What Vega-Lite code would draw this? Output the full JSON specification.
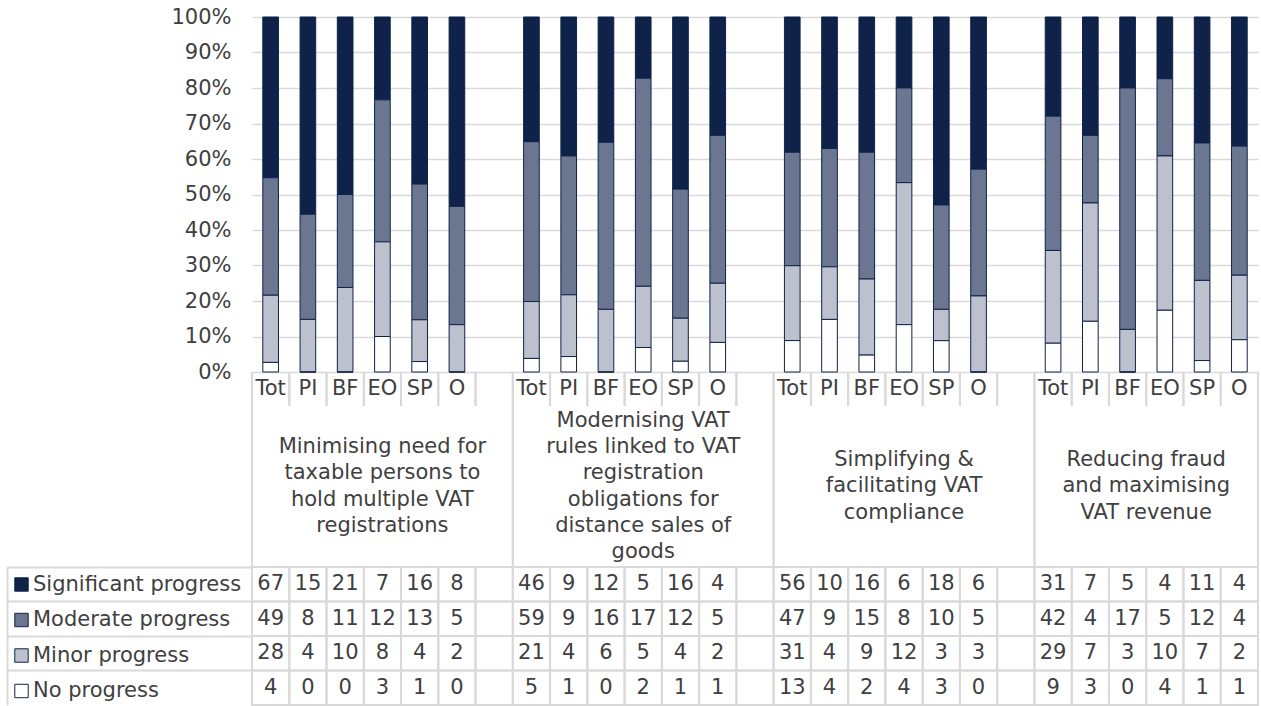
{
  "$schema": "https://vega.github.io/schema/vega-lite/v6.json",
  "padding": {"left": 6, "top": 6, "right": 0, "bottom": 0},
  "autosize": {"type": "pad"},
  "bounds": "flush",
  "spacing": 0,
  "config": {
    "font": "DejaVu Sans",
    "view": {"stroke": null},
    "text": {"fontSize": 21, "color": "#404040", "font": "DejaVu Sans"},
    "axis": {"labelFont": "DejaVu Sans"}
  },
  "datasets": {
    "cells": [
      {"group": 1, "cat": "Tot", "slot": "1|Tot", "series": "Significant progress", "count": 67},
      {"group": 1, "cat": "PI", "slot": "1|PI", "series": "Significant progress", "count": 15},
      {"group": 1, "cat": "BF", "slot": "1|BF", "series": "Significant progress", "count": 21},
      {"group": 1, "cat": "EO", "slot": "1|EO", "series": "Significant progress", "count": 7},
      {"group": 1, "cat": "SP", "slot": "1|SP", "series": "Significant progress", "count": 16},
      {"group": 1, "cat": "O", "slot": "1|O", "series": "Significant progress", "count": 8},
      {"group": 1, "cat": "", "slot": "1|-", "series": "Significant progress", "count": null},
      {"group": 1, "cat": "Tot", "slot": "1|Tot", "series": "Moderate progress", "count": 49},
      {"group": 1, "cat": "PI", "slot": "1|PI", "series": "Moderate progress", "count": 8},
      {"group": 1, "cat": "BF", "slot": "1|BF", "series": "Moderate progress", "count": 11},
      {"group": 1, "cat": "EO", "slot": "1|EO", "series": "Moderate progress", "count": 12},
      {"group": 1, "cat": "SP", "slot": "1|SP", "series": "Moderate progress", "count": 13},
      {"group": 1, "cat": "O", "slot": "1|O", "series": "Moderate progress", "count": 5},
      {"group": 1, "cat": "", "slot": "1|-", "series": "Moderate progress", "count": null},
      {"group": 1, "cat": "Tot", "slot": "1|Tot", "series": "Minor progress", "count": 28},
      {"group": 1, "cat": "PI", "slot": "1|PI", "series": "Minor progress", "count": 4},
      {"group": 1, "cat": "BF", "slot": "1|BF", "series": "Minor progress", "count": 10},
      {"group": 1, "cat": "EO", "slot": "1|EO", "series": "Minor progress", "count": 8},
      {"group": 1, "cat": "SP", "slot": "1|SP", "series": "Minor progress", "count": 4},
      {"group": 1, "cat": "O", "slot": "1|O", "series": "Minor progress", "count": 2},
      {"group": 1, "cat": "", "slot": "1|-", "series": "Minor progress", "count": null},
      {"group": 1, "cat": "Tot", "slot": "1|Tot", "series": "No progress", "count": 4},
      {"group": 1, "cat": "PI", "slot": "1|PI", "series": "No progress", "count": 0},
      {"group": 1, "cat": "BF", "slot": "1|BF", "series": "No progress", "count": 0},
      {"group": 1, "cat": "EO", "slot": "1|EO", "series": "No progress", "count": 3},
      {"group": 1, "cat": "SP", "slot": "1|SP", "series": "No progress", "count": 1},
      {"group": 1, "cat": "O", "slot": "1|O", "series": "No progress", "count": 0},
      {"group": 1, "cat": "", "slot": "1|-", "series": "No progress", "count": null},

      {"group": 2, "cat": "Tot", "slot": "2|Tot", "series": "Significant progress", "count": 46},
      {"group": 2, "cat": "PI", "slot": "2|PI", "series": "Significant progress", "count": 9},
      {"group": 2, "cat": "BF", "slot": "2|BF", "series": "Significant progress", "count": 12},
      {"group": 2, "cat": "EO", "slot": "2|EO", "series": "Significant progress", "count": 5},
      {"group": 2, "cat": "SP", "slot": "2|SP", "series": "Significant progress", "count": 16},
      {"group": 2, "cat": "O", "slot": "2|O", "series": "Significant progress", "count": 4},
      {"group": 2, "cat": "", "slot": "2|-", "series": "Significant progress", "count": null},
      {"group": 2, "cat": "Tot", "slot": "2|Tot", "series": "Moderate progress", "count": 59},
      {"group": 2, "cat": "PI", "slot": "2|PI", "series": "Moderate progress", "count": 9},
      {"group": 2, "cat": "BF", "slot": "2|BF", "series": "Moderate progress", "count": 16},
      {"group": 2, "cat": "EO", "slot": "2|EO", "series": "Moderate progress", "count": 17},
      {"group": 2, "cat": "SP", "slot": "2|SP", "series": "Moderate progress", "count": 12},
      {"group": 2, "cat": "O", "slot": "2|O", "series": "Moderate progress", "count": 5},
      {"group": 2, "cat": "", "slot": "2|-", "series": "Moderate progress", "count": null},
      {"group": 2, "cat": "Tot", "slot": "2|Tot", "series": "Minor progress", "count": 21},
      {"group": 2, "cat": "PI", "slot": "2|PI", "series": "Minor progress", "count": 4},
      {"group": 2, "cat": "BF", "slot": "2|BF", "series": "Minor progress", "count": 6},
      {"group": 2, "cat": "EO", "slot": "2|EO", "series": "Minor progress", "count": 5},
      {"group": 2, "cat": "SP", "slot": "2|SP", "series": "Minor progress", "count": 4},
      {"group": 2, "cat": "O", "slot": "2|O", "series": "Minor progress", "count": 2},
      {"group": 2, "cat": "", "slot": "2|-", "series": "Minor progress", "count": null},
      {"group": 2, "cat": "Tot", "slot": "2|Tot", "series": "No progress", "count": 5},
      {"group": 2, "cat": "PI", "slot": "2|PI", "series": "No progress", "count": 1},
      {"group": 2, "cat": "BF", "slot": "2|BF", "series": "No progress", "count": 0},
      {"group": 2, "cat": "EO", "slot": "2|EO", "series": "No progress", "count": 2},
      {"group": 2, "cat": "SP", "slot": "2|SP", "series": "No progress", "count": 1},
      {"group": 2, "cat": "O", "slot": "2|O", "series": "No progress", "count": 1},
      {"group": 2, "cat": "", "slot": "2|-", "series": "No progress", "count": null},

      {"group": 3, "cat": "Tot", "slot": "3|Tot", "series": "Significant progress", "count": 56},
      {"group": 3, "cat": "PI", "slot": "3|PI", "series": "Significant progress", "count": 10},
      {"group": 3, "cat": "BF", "slot": "3|BF", "series": "Significant progress", "count": 16},
      {"group": 3, "cat": "EO", "slot": "3|EO", "series": "Significant progress", "count": 6},
      {"group": 3, "cat": "SP", "slot": "3|SP", "series": "Significant progress", "count": 18},
      {"group": 3, "cat": "O", "slot": "3|O", "series": "Significant progress", "count": 6},
      {"group": 3, "cat": "", "slot": "3|-", "series": "Significant progress", "count": null},
      {"group": 3, "cat": "Tot", "slot": "3|Tot", "series": "Moderate progress", "count": 47},
      {"group": 3, "cat": "PI", "slot": "3|PI", "series": "Moderate progress", "count": 9},
      {"group": 3, "cat": "BF", "slot": "3|BF", "series": "Moderate progress", "count": 15},
      {"group": 3, "cat": "EO", "slot": "3|EO", "series": "Moderate progress", "count": 8},
      {"group": 3, "cat": "SP", "slot": "3|SP", "series": "Moderate progress", "count": 10},
      {"group": 3, "cat": "O", "slot": "3|O", "series": "Moderate progress", "count": 5},
      {"group": 3, "cat": "", "slot": "3|-", "series": "Moderate progress", "count": null},
      {"group": 3, "cat": "Tot", "slot": "3|Tot", "series": "Minor progress", "count": 31},
      {"group": 3, "cat": "PI", "slot": "3|PI", "series": "Minor progress", "count": 4},
      {"group": 3, "cat": "BF", "slot": "3|BF", "series": "Minor progress", "count": 9},
      {"group": 3, "cat": "EO", "slot": "3|EO", "series": "Minor progress", "count": 12},
      {"group": 3, "cat": "SP", "slot": "3|SP", "series": "Minor progress", "count": 3},
      {"group": 3, "cat": "O", "slot": "3|O", "series": "Minor progress", "count": 3},
      {"group": 3, "cat": "", "slot": "3|-", "series": "Minor progress", "count": null},
      {"group": 3, "cat": "Tot", "slot": "3|Tot", "series": "No progress", "count": 13},
      {"group": 3, "cat": "PI", "slot": "3|PI", "series": "No progress", "count": 4},
      {"group": 3, "cat": "BF", "slot": "3|BF", "series": "No progress", "count": 2},
      {"group": 3, "cat": "EO", "slot": "3|EO", "series": "No progress", "count": 4},
      {"group": 3, "cat": "SP", "slot": "3|SP", "series": "No progress", "count": 3},
      {"group": 3, "cat": "O", "slot": "3|O", "series": "No progress", "count": 0},
      {"group": 3, "cat": "", "slot": "3|-", "series": "No progress", "count": null},

      {"group": 4, "cat": "Tot", "slot": "4|Tot", "series": "Significant progress", "count": 31},
      {"group": 4, "cat": "PI", "slot": "4|PI", "series": "Significant progress", "count": 7},
      {"group": 4, "cat": "BF", "slot": "4|BF", "series": "Significant progress", "count": 5},
      {"group": 4, "cat": "EO", "slot": "4|EO", "series": "Significant progress", "count": 4},
      {"group": 4, "cat": "SP", "slot": "4|SP", "series": "Significant progress", "count": 11},
      {"group": 4, "cat": "O", "slot": "4|O", "series": "Significant progress", "count": 4},
      {"group": 4, "cat": "Tot", "slot": "4|Tot", "series": "Moderate progress", "count": 42},
      {"group": 4, "cat": "PI", "slot": "4|PI", "series": "Moderate progress", "count": 4},
      {"group": 4, "cat": "BF", "slot": "4|BF", "series": "Moderate progress", "count": 17},
      {"group": 4, "cat": "EO", "slot": "4|EO", "series": "Moderate progress", "count": 5},
      {"group": 4, "cat": "SP", "slot": "4|SP", "series": "Moderate progress", "count": 12},
      {"group": 4, "cat": "O", "slot": "4|O", "series": "Moderate progress", "count": 4},
      {"group": 4, "cat": "Tot", "slot": "4|Tot", "series": "Minor progress", "count": 29},
      {"group": 4, "cat": "PI", "slot": "4|PI", "series": "Minor progress", "count": 7},
      {"group": 4, "cat": "BF", "slot": "4|BF", "series": "Minor progress", "count": 3},
      {"group": 4, "cat": "EO", "slot": "4|EO", "series": "Minor progress", "count": 10},
      {"group": 4, "cat": "SP", "slot": "4|SP", "series": "Minor progress", "count": 7},
      {"group": 4, "cat": "O", "slot": "4|O", "series": "Minor progress", "count": 2},
      {"group": 4, "cat": "Tot", "slot": "4|Tot", "series": "No progress", "count": 9},
      {"group": 4, "cat": "PI", "slot": "4|PI", "series": "No progress", "count": 3},
      {"group": 4, "cat": "BF", "slot": "4|BF", "series": "No progress", "count": 0},
      {"group": 4, "cat": "EO", "slot": "4|EO", "series": "No progress", "count": 4},
      {"group": 4, "cat": "SP", "slot": "4|SP", "series": "No progress", "count": 1},
      {"group": 4, "cat": "O", "slot": "4|O", "series": "No progress", "count": 1}
    ],
    "groups": [
      {"group": 1, "label": "Minimising need for\ntaxable persons to\nhold multiple VAT\nregistrations", "start": "1|Tot", "end": "1|-", "center": "1|EO"},
      {"group": 2, "label": "Modernising VAT\nrules linked to VAT\nregistration\nobligations for\ndistance sales of\ngoods", "start": "2|Tot", "end": "2|-", "center": "2|EO"},
      {"group": 3, "label": "Simplifying &\nfacilitating VAT\ncompliance", "start": "3|Tot", "end": "3|-", "center": "3|EO"},
      {"group": 4, "label": "Reducing fraud\nand maximising\nVAT revenue", "start": "4|Tot", "end": "4|O", "center": "4|EO"}
    ]
  },
  "vconcat": [
    {
      "width": 1006,
      "height": 355,
      "data": {"name": "cells"},
      "transform": [
        {"filter": "isValid(datum.count)"},
        {"calculate": "indexof(['No progress', 'Minor progress', 'Moderate progress', 'Significant progress'], datum.series)", "as": "stackOrder"}
      ],
      "mark": {"type": "bar", "stroke": "#0f2249", "strokeWidth": 1},
      "encoding": {
        "x": {
          "field": "slot", "type": "nominal",
          "scale": {"type": "band", "domain": ["1|Tot","1|PI","1|BF","1|EO","1|SP","1|O","1|-","2|Tot","2|PI","2|BF","2|EO","2|SP","2|O","2|-","3|Tot","3|PI","3|BF","3|EO","3|SP","3|O","3|-","4|Tot","4|PI","4|BF","4|EO","4|SP","4|O"], "paddingInner": 0.58, "paddingOuter": 0.29},
          "axis": null
        },
        "y": {
          "field": "count", "type": "quantitative", "stack": "normalize",
          "axis": {
            "title": null, "values": [0, 0.1, 0.2, 0.3, 0.4, 0.5, 0.6, 0.7, 0.8, 0.9, 1],
            "format": ".0%", "grid": true, "gridColor": "#d9d9d9", "gridWidth": 1.5,
            "domain": false, "ticks": false, "tickSize": 0, "labelPadding": 21,
            "labelFontSize": 21, "labelColor": "#404040", "labelFont": "DejaVu Sans"
          }
        },
        "order": {"field": "stackOrder", "type": "quantitative", "sort": "ascending"},
        "color": {
          "field": "series", "type": "nominal",
          "sort": ["Significant progress", "Moderate progress", "Minor progress", "No progress"],
          "scale": {
            "domain": ["Significant progress", "Moderate progress", "Minor progress", "No progress"],
            "range": ["#0f2249", "#6b7690", "#bcc1cd", "#ffffff"]
          },
          "legend": {
            "orient": "none", "legendX": -241, "legendY": 557, "title": null,
            "padding": 0, "labelFontSize": 21, "labelFont": "DejaVu Sans", "labelColor": "#404040",
            "labelLimit": 400, "labelOffset": 1, "rowPadding": 13.5,
            "symbolType": "square", "symbolSize": 180, "symbolStrokeColor": "#0f2249", "symbolStrokeWidth": 1
          }
        }
      }
    },
    {
      "width": 1006,
      "height": 34,
      "data": {"name": "cells"},
      "transform": [{"filter": "datum.series == 'No progress'"}],
      "layer": [
        {
          "mark": {"type": "rule", "color": "#d9d9d9", "strokeWidth": 2},
          "encoding": {
            "x": {"field": "slot", "type": "nominal", "bandPosition": 0,
              "scale": {"type": "band", "domain": ["1|Tot","1|PI","1|BF","1|EO","1|SP","1|O","1|-","2|Tot","2|PI","2|BF","2|EO","2|SP","2|O","2|-","3|Tot","3|PI","3|BF","3|EO","3|SP","3|O","3|-","4|Tot","4|PI","4|BF","4|EO","4|SP","4|O"], "paddingInner": 0, "paddingOuter": 0},
              "axis": null}
          }
        },
        {
          "mark": {"type": "rule", "color": "#d9d9d9", "strokeWidth": 2},
          "encoding": {
            "x": {"field": "slot", "type": "nominal", "bandPosition": 1, "axis": null}
          }
        },
        {
          "mark": {"type": "text", "fontSize": 21, "color": "#404040"},
          "encoding": {
            "x": {"field": "slot", "type": "nominal", "bandPosition": 0.5, "axis": null},
            "text": {"field": "cat", "type": "nominal"}
          }
        }
      ]
    },
    {
      "width": 1006,
      "height": 161,
      "data": {"name": "groups"},
      "layer": [
        {
          "mark": {"type": "rule", "color": "#d9d9d9", "strokeWidth": 2},
          "encoding": {
            "x": {"field": "start", "type": "nominal", "bandPosition": 0,
              "scale": {"type": "band", "domain": ["1|Tot","1|PI","1|BF","1|EO","1|SP","1|O","1|-","2|Tot","2|PI","2|BF","2|EO","2|SP","2|O","2|-","3|Tot","3|PI","3|BF","3|EO","3|SP","3|O","3|-","4|Tot","4|PI","4|BF","4|EO","4|SP","4|O"], "paddingInner": 0, "paddingOuter": 0},
              "axis": null}
          }
        },
        {
          "mark": {"type": "rule", "color": "#d9d9d9", "strokeWidth": 2},
          "encoding": {
            "x": {"field": "end", "type": "nominal", "bandPosition": 1, "axis": null}
          }
        },
        {
          "transform": [{"filter": "datum.group == 1"}],
          "mark": {"type": "text", "fontSize": 21, "color": "#404040", "lineBreak": "\n", "lineHeight": 26.3, "dy": -39.5},
          "encoding": {
            "x": {"field": "center", "type": "nominal", "bandPosition": 0.5, "axis": null},
            "text": {"field": "label", "type": "nominal"}
          }
        },
        {
          "transform": [{"filter": "datum.group == 2"}],
          "mark": {"type": "text", "fontSize": 21, "color": "#404040", "lineBreak": "\n", "lineHeight": 26.3, "dy": -65.8},
          "encoding": {
            "x": {"field": "center", "type": "nominal", "bandPosition": 0.5, "axis": null},
            "text": {"field": "label", "type": "nominal"}
          }
        },
        {
          "transform": [{"filter": "datum.group == 3"}],
          "mark": {"type": "text", "fontSize": 21, "color": "#404040", "lineBreak": "\n", "lineHeight": 26.3, "dy": -26.3},
          "encoding": {
            "x": {"field": "center", "type": "nominal", "bandPosition": 0.5, "axis": null},
            "text": {"field": "label", "type": "nominal"}
          }
        },
        {
          "transform": [{"filter": "datum.group == 4"}],
          "mark": {"type": "text", "fontSize": 21, "color": "#404040", "lineBreak": "\n", "lineHeight": 26.3, "dy": -26.3},
          "encoding": {
            "x": {"field": "center", "type": "nominal", "bandPosition": 0, "axis": null},
            "text": {"field": "label", "type": "nominal"}
          }
        }
      ]
    },
    {
      "width": 1006,
      "height": 138,
      "data": {"name": "cells"},
      "encoding": {
        "x": {
          "field": "slot", "type": "nominal",
          "scale": {"type": "band", "domain": ["1|Tot","1|PI","1|BF","1|EO","1|SP","1|O","1|-","2|Tot","2|PI","2|BF","2|EO","2|SP","2|O","2|-","3|Tot","3|PI","3|BF","3|EO","3|SP","3|O","3|-","4|Tot","4|PI","4|BF","4|EO","4|SP","4|O"], "paddingInner": 0, "paddingOuter": 0},
          "axis": null
        },
        "y": {
          "field": "series", "type": "nominal",
          "scale": {"type": "band", "domain": ["Significant progress", "Moderate progress", "Minor progress", "No progress"], "paddingInner": 0, "paddingOuter": 0},
          "axis": {
            "title": null, "labels": false, "offset": 245, "tickSize": -245, "bandPosition": 0,
            "tickColor": "#d9d9d9", "tickWidth": 2, "domainColor": "#d9d9d9", "domainWidth": 2, "grid": false
          }
        }
      },
      "layer": [
        {"mark": {"type": "rect", "fillOpacity": 0, "stroke": "#d9d9d9", "strokeWidth": 2}},
        {
          "transform": [{"filter": "isValid(datum.count)"}],
          "mark": {"type": "text", "fontSize": 21, "color": "#404040"},
          "encoding": {"text": {"field": "count", "type": "quantitative"}}
        }
      ]
    }
  ]
}
